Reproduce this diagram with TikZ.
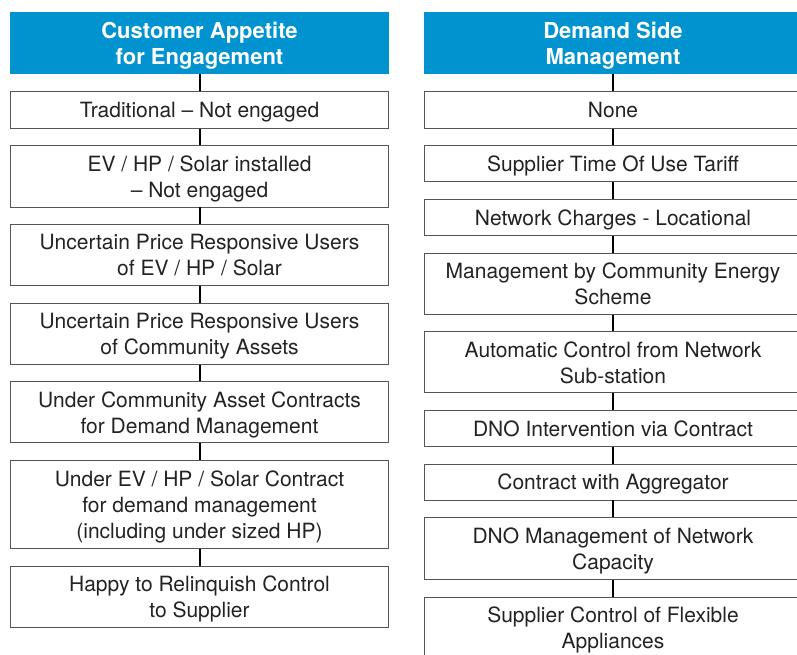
\documentclass[tikz,border=0pt]{standalone}
\usepackage{fontspec}
\setmainfont{TeX Gyre Heros}
\usetikzlibrary{positioning}
\definecolor{headblue}{RGB}{0,147,208}
\definecolor{boxgray}{RGB}{85,85,85}
\definecolor{txtgray}{RGB}{35,35,35}

\begin{document}
\begin{tikzpicture}[x=1pt,y=1pt,
      headbox/.style={
         rectangle,
         fill=headblue,
         text=white,
         inner sep=0pt,
         minimum width=379pt,
         minimum height=62pt,
         text depth=0pt,
         align=center,
         font=\fontsize{22}{26}\selectfont\bfseries},
      itembox/.style={
         rectangle,
         draw=boxgray,
         line width=0.9pt,
         fill=white,
         text=txtgray,
         inner sep=0pt,
         minimum width=378pt,
         minimum height=36pt,
         text depth=0pt,
         align=center,
         font=\fontsize{21}{26}\selectfont},
      tallbox/.style={itembox, minimum height=61pt},
      link/.style={line width=2pt, black},
      node distance=16.7pt
      ]
      \useasboundingbox (0,0) rectangle (797,-655);

      % left column
      \node[headbox] (cust) at (199.5,-43) {Customer Appetite\\for Engagement};
      \node[itembox,minimum height=37pt,below=of cust] (c1) {Traditional -- Not engaged};
      \node[tallbox,below=of c1] (c2) {EV / HP / Solar installed\\-- Not engaged};
      \node[tallbox,below=of c2] (c3) {Uncertain Price Responsive Users\\of EV / HP / Solar};
      \node[tallbox,below=of c3] (c4) {Uncertain Price Responsive Users\\of Community Assets};
      \node[tallbox,below=of c4] (c5) {Under Community Asset Contracts\\for Demand Management};
      \node[tallbox,minimum height=88pt,below=of c5] (c6) {Under EV / HP / Solar Contract\\for demand management\\(including under sized HP)};
      \node[tallbox,below=of c6] (c7) {Happy to Relinquish Control\\to Supplier};

      % right column
      \node[headbox] (dsm) at (613,-43) {Demand Side\\Management};
      \node[itembox,minimum height=37pt,below=of dsm] (d1) {None};
      \node[itembox,below=of d1] (d2) {Supplier Time Of Use Tariff};
      \node[itembox,below=of d2] (d3) {Network Charges - Locational};
      \node[tallbox,below=of d3] (d4) {Management by Community Energy\\Scheme};
      \node[tallbox,below=of d4] (d5) {Automatic Control from Network\\Sub-station};
      \node[itembox,below=of d5] (d6) {DNO Intervention via Contract};
      \node[itembox,below=of d6] (d7) {Contract with Aggregator};
      \node[tallbox,minimum height=62pt,below=of d7] (d8) {DNO Management of Network\\Capacity};
      \node[tallbox,below=of d8] (d9) {Supplier Control of Flexible\\Appliances};

    \foreach \i/\j in {% upper node/lower node
      cust/c1, c1/c2, c2/c3, c3/c4, c4/c5, c5/c6, c6/c7,
      dsm/d1, d1/d2, d2/d3, d3/d4, d4/d5, d5/d6, d6/d7, d7/d8, d8/d9}
       \draw [link] (\i) -- (\j);

    \end{tikzpicture}
\end{document}
